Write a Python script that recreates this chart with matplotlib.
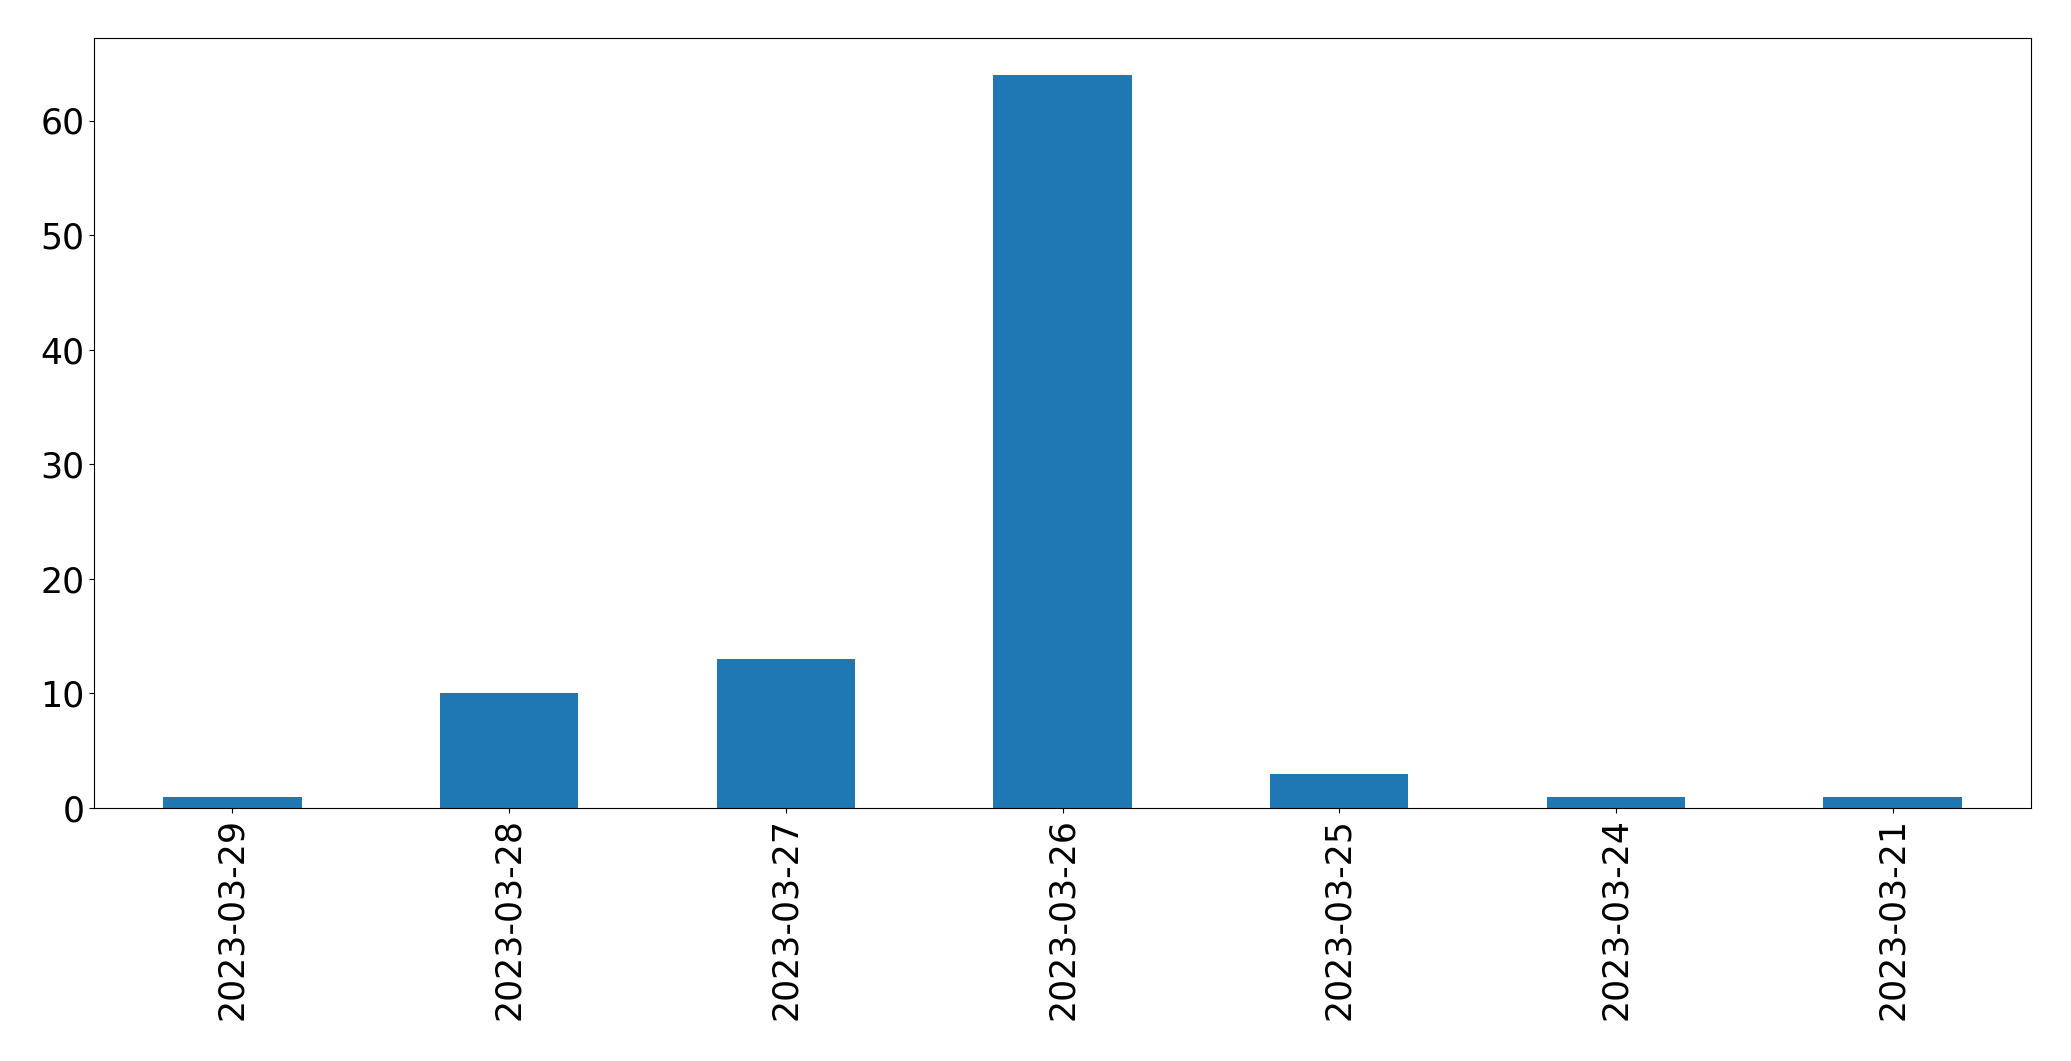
import matplotlib
matplotlib.use("Agg")
import matplotlib.pyplot as plt

dates = ["2023-03-29", "2023-03-28", "2023-03-27", "2023-03-26",
         "2023-03-25", "2023-03-24", "2023-03-21"]
counts = [1, 10, 13, 64, 3, 1, 1]

fig = plt.figure(figsize=(20.71, 10.61), dpi=100)
ax = fig.add_axes([94/2071, 1-808/1061, (2031-94)/2071, (808-38)/1061])
x = list(range(len(dates)))
ax.bar(x, counts, width=0.5, color="#1f77b4")
ax.set_xticks(x)
ax.set_xticklabels(dates, rotation=90)
ax.set_xlim(-0.5, len(dates) - 0.5)
ax.tick_params(labelsize=25)
fig.savefig("out.png", dpi=100)
